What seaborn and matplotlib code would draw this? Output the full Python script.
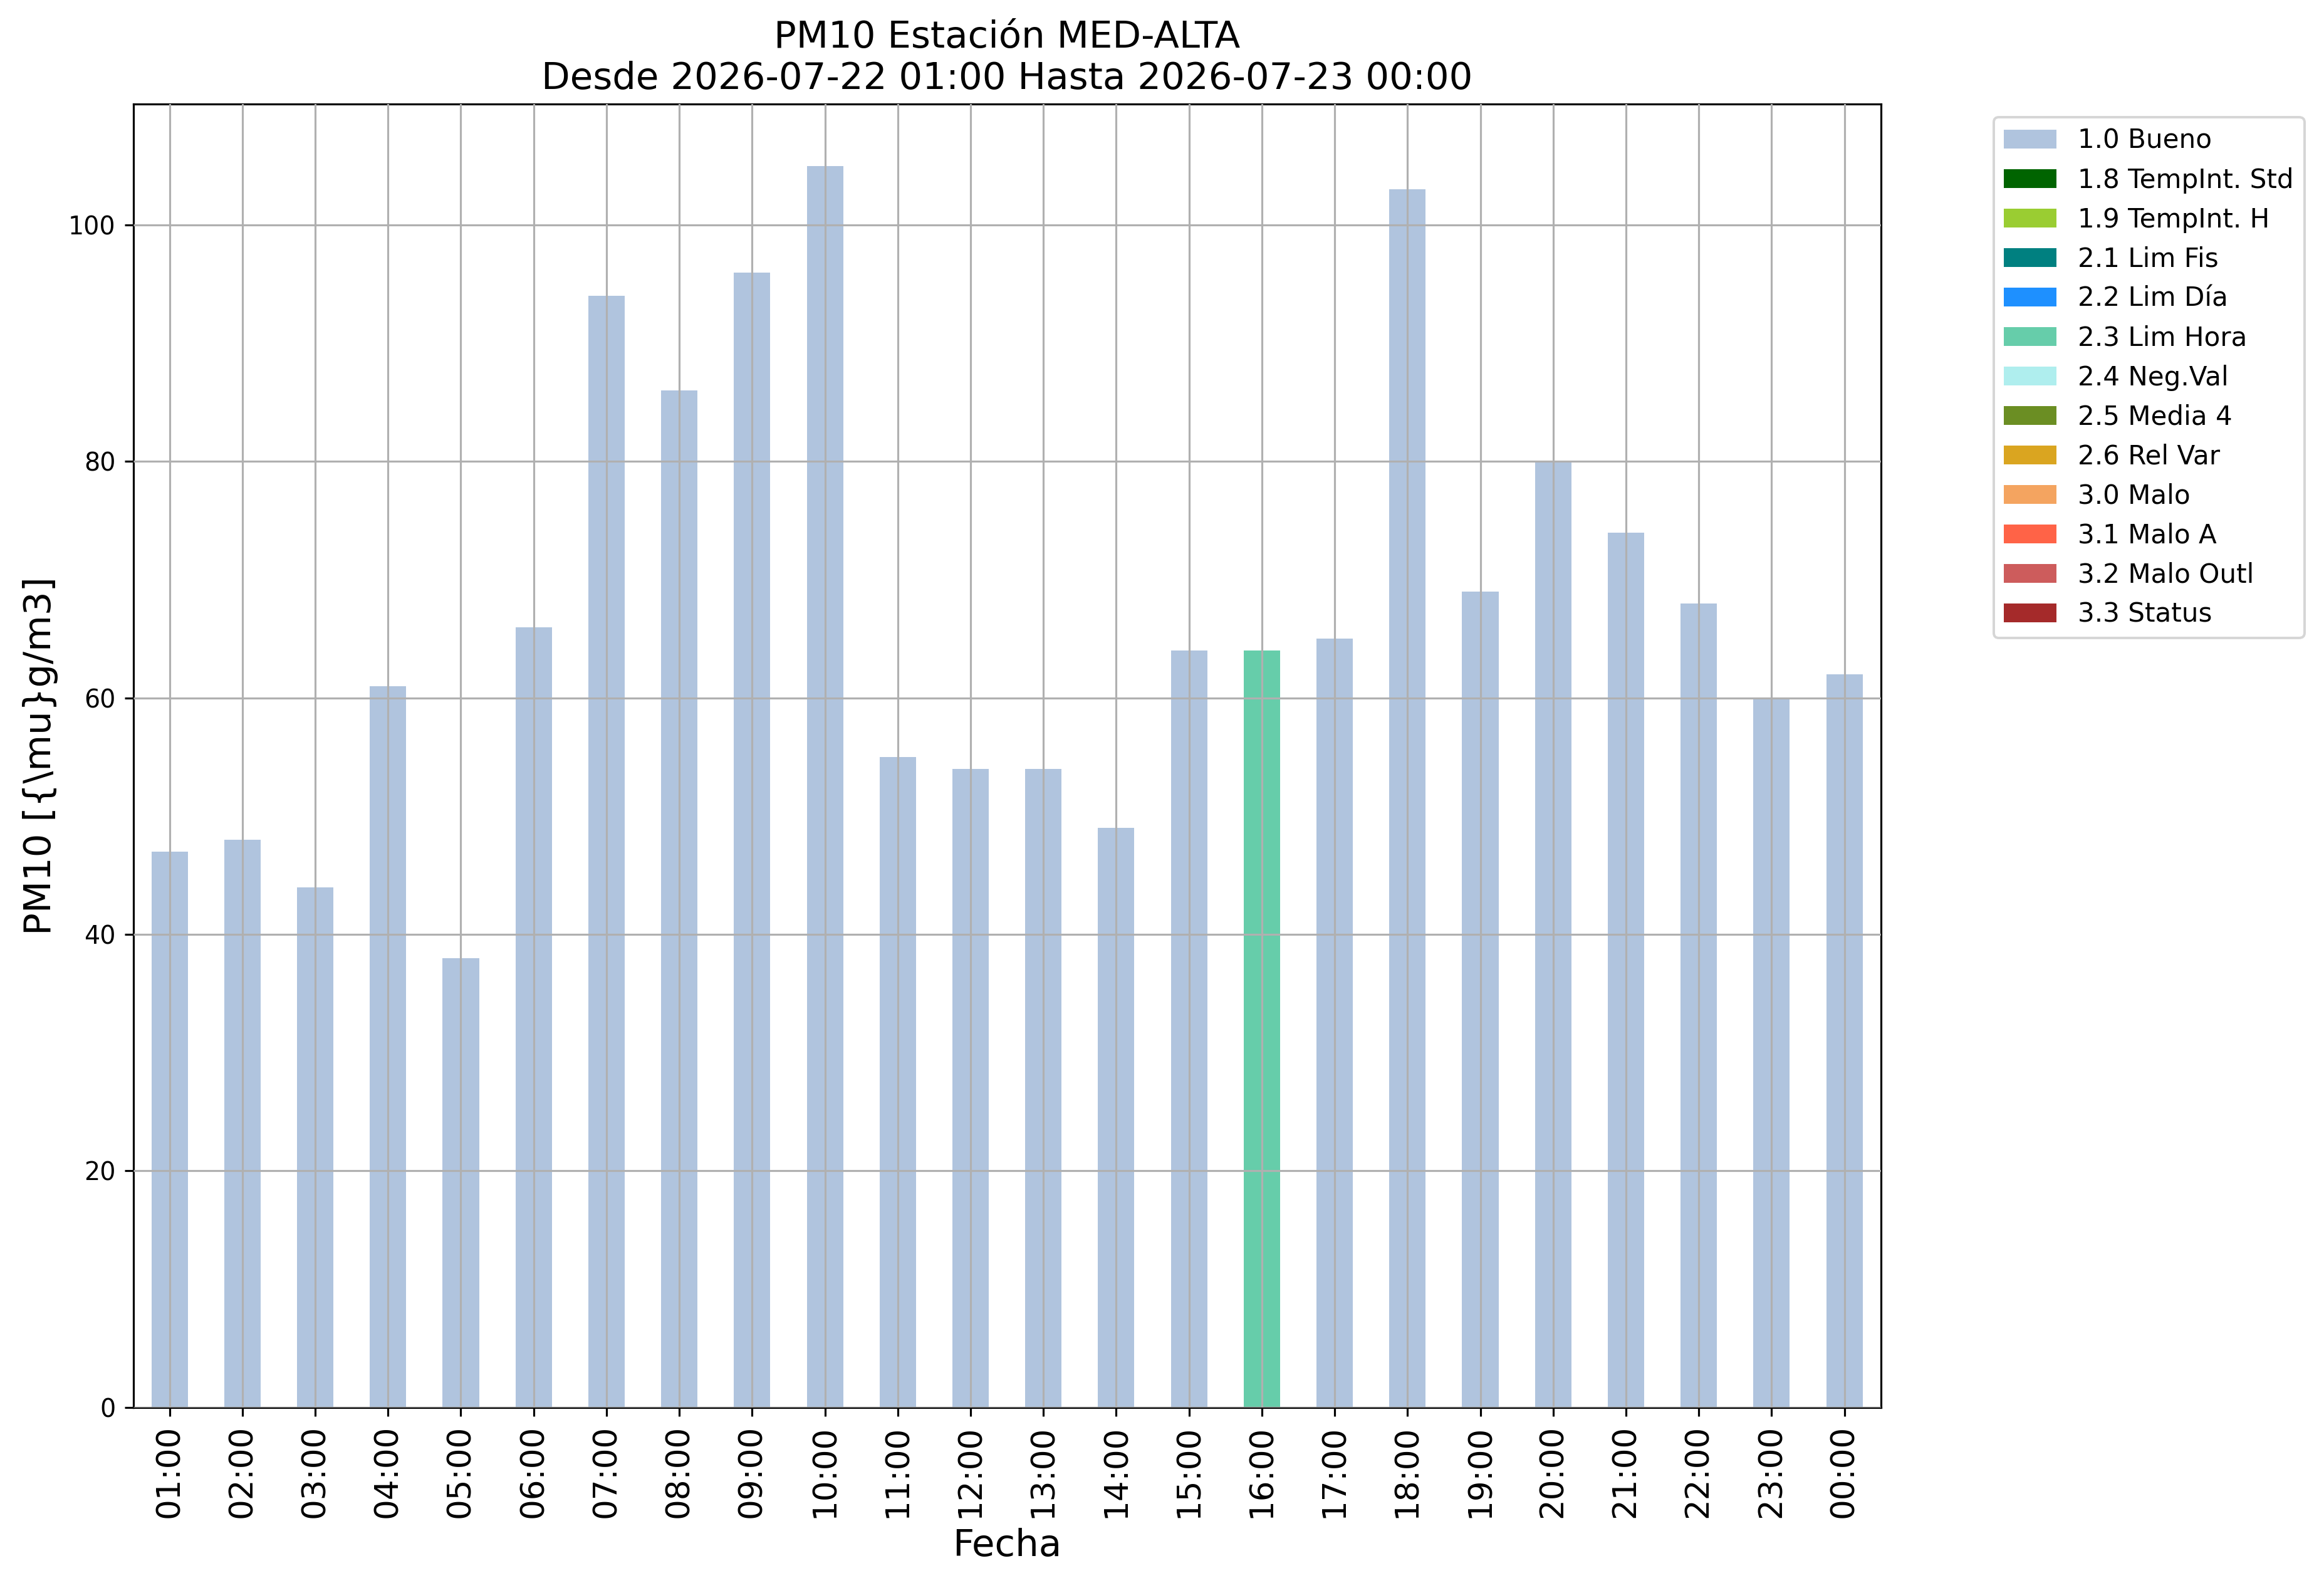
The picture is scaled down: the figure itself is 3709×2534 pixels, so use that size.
import matplotlib
matplotlib.use("Agg")
import matplotlib.pyplot as plt
from matplotlib.patches import Patch
import seaborn as sns
import pandas as pd

# ---- data ----
hours = ["01:00", "02:00", "03:00", "04:00", "05:00", "06:00", "07:00", "08:00",
         "09:00", "10:00", "11:00", "12:00", "13:00", "14:00", "15:00", "16:00",
         "17:00", "18:00", "19:00", "20:00", "21:00", "22:00", "23:00", "00:00"]
pm10 = [47, 48, 44, 61, 38, 66, 94, 86, 96, 105, 55, 54, 54, 49, 64, 64,
        65, 103, 69, 80, 74, 68, 60, 62]
flags = ["1.0 Bueno"] * 15 + ["2.3 Lim Hora"] + ["1.0 Bueno"] * 8

flag_labels = ["1.0 Bueno", "1.8 TempInt. Std", "1.9 TempInt. H", "2.1 Lim Fis",
               "2.2 Lim Día", "2.3 Lim Hora", "2.4 Neg.Val", "2.5 Media 4",
               "2.6 Rel Var", "3.0 Malo", "3.1 Malo A", "3.2 Malo Outl", "3.3 Status"]
flag_colors = ["lightsteelblue", "darkgreen", "yellowgreen", "teal", "dodgerblue",
               "mediumaquamarine", "paleturquoise", "olivedrab", "goldenrod",
               "sandybrown", "tomato", "indianred", "brown"]

title = "PM10 Estación MED-ALTA\nDesde 2026-07-22 01:00 Hasta 2026-07-23 00:00"
xlabel = "Fecha"
ylabel = r"PM10 [{\mu}g/m3]"

df = pd.DataFrame({"hora": hours, "valor": pm10, "flag": flags})
palette = dict(zip(flag_labels, flag_colors))

dpi = 285.3
fig = plt.figure(figsize=(3709 / dpi, 2534 / dpi), dpi=dpi)
ax = fig.add_subplot(111)
fig.subplots_adjust(left=0.0573, right=0.8093, bottom=0.1138, top=0.9346)

sns.barplot(data=df, x="hora", y="valor", hue="flag", hue_order=flag_labels,
            palette=palette, dodge=False, width=0.5, saturation=1,
            legend=False, ax=ax, order=hours)

ax.set_xlim(-0.5, len(hours) - 0.5)
ax.set_ylim(0, max(pm10) * 1.05)
ax.grid(True, color="#b0b0b0", linewidth=0.8)
ax.set_axisbelow(False)

ax.set_title(title, fontsize=15)
ax.set_xlabel(xlabel, fontsize=15)
ax.set_ylabel(ylabel, fontsize=15)
ax.tick_params(axis="x", labelsize=13, labelrotation=90)
ax.tick_params(axis="y", labelsize=10)

handles = [Patch(facecolor=c, label=l) for l, c in zip(flag_labels, flag_colors)]
ax.legend(handles=handles, loc="upper left", bbox_to_anchor=(1.057, 1),
          fontsize=10.6)

fig.savefig("out.png", dpi=dpi)
